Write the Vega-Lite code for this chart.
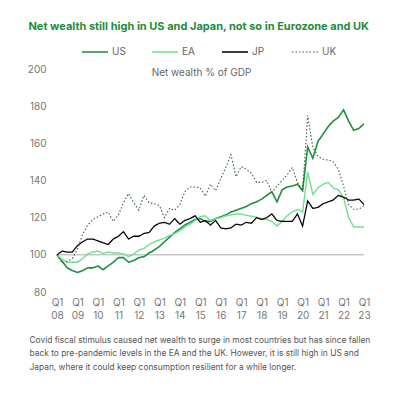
{
  "$schema": "https://vega.github.io/schema/vega-lite/v6.json",
  "width": 307,
  "height": 223,
  "padding": {"left": 27, "top": 21, "right": 5, "bottom": 5},
  "config": {
    "view": {"stroke": null},
    "font": "Inter",
    "axis": {"labelFont": "Inter", "titleFont": "Inter"},
    "axisY": {"labelOverlap": false},
    "legend": {"labelFont": "Inter"}
  },
  "title": {
    "text": "Net wealth still high in US and Japan, not so in Eurozone and UK",
    "fontSize": 11,
    "fontWeight": "bold",
    "color": "#1e8c3c",
    "anchor": "middle",
    "frame": "bounds",
    "offset": 6
  },
  "encoding": {
    "y": {
      "field": "value",
      "type": "quantitative",
      "scale": {"domain": [80, 200], "nice": false, "zero": false},
      "axis": {
        "values": [80, 100, 120, 140, 160, 180, 200],
        "labelFontSize": 10,
        "labelColor": "#777777",
        "labelPadding": 11,
        "labelOverlap": false,
        "ticks": false,
        "domain": false,
        "grid": false,
        "title": "Net wealth % of GDP",
        "titleAngle": 0,
        "titleX": 144,
        "titleY": 3,
        "titleAlign": "center",
        "titleBaseline": "middle",
        "titleFontSize": 10,
        "titleFontWeight": "normal",
        "titleColor": "#666666"
      }
    }
  },
  "layer": [
    {
      "data": {"values": [{"value": 100}]},
      "mark": {"type": "rule", "color": "#aaaaaa", "strokeWidth": 1},
      "encoding": {}
    },
    {
      "data": {
        "values": [
          {"date": "2008-01-01", "series": "US", "value": 100},
          {"date": "2008-04-01", "series": "US", "value": 96.5},
          {"date": "2008-07-01", "series": "US", "value": 93},
          {"date": "2008-10-01", "series": "US", "value": 91.5},
          {"date": "2009-01-01", "series": "US", "value": 90.5},
          {"date": "2009-04-01", "series": "US", "value": 91.5},
          {"date": "2009-07-01", "series": "US", "value": 93},
          {"date": "2009-10-01", "series": "US", "value": 93},
          {"date": "2010-01-01", "series": "US", "value": 94},
          {"date": "2010-04-01", "series": "US", "value": 92},
          {"date": "2010-07-01", "series": "US", "value": 94},
          {"date": "2010-10-01", "series": "US", "value": 96},
          {"date": "2011-01-01", "series": "US", "value": 98.5},
          {"date": "2011-04-01", "series": "US", "value": 98.5},
          {"date": "2011-07-01", "series": "US", "value": 96},
          {"date": "2011-10-01", "series": "US", "value": 97},
          {"date": "2012-01-01", "series": "US", "value": 98.5},
          {"date": "2012-04-01", "series": "US", "value": 99},
          {"date": "2012-07-01", "series": "US", "value": 101},
          {"date": "2012-10-01", "series": "US", "value": 102.5},
          {"date": "2013-01-01", "series": "US", "value": 104.5},
          {"date": "2013-04-01", "series": "US", "value": 107},
          {"date": "2013-07-01", "series": "US", "value": 109.5},
          {"date": "2013-10-01", "series": "US", "value": 112},
          {"date": "2014-01-01", "series": "US", "value": 114},
          {"date": "2014-04-01", "series": "US", "value": 116},
          {"date": "2014-07-01", "series": "US", "value": 117.5},
          {"date": "2014-10-01", "series": "US", "value": 119},
          {"date": "2015-01-01", "series": "US", "value": 119.5},
          {"date": "2015-04-01", "series": "US", "value": 118},
          {"date": "2015-07-01", "series": "US", "value": 118},
          {"date": "2015-10-01", "series": "US", "value": 119.5},
          {"date": "2016-01-01", "series": "US", "value": 120.5},
          {"date": "2016-04-01", "series": "US", "value": 121.5},
          {"date": "2016-07-01", "series": "US", "value": 123},
          {"date": "2016-10-01", "series": "US", "value": 124},
          {"date": "2017-01-01", "series": "US", "value": 125},
          {"date": "2017-04-01", "series": "US", "value": 126},
          {"date": "2017-07-01", "series": "US", "value": 127.5},
          {"date": "2017-10-01", "series": "US", "value": 128.5},
          {"date": "2018-01-01", "series": "US", "value": 130},
          {"date": "2018-04-01", "series": "US", "value": 132},
          {"date": "2018-07-01", "series": "US", "value": 134},
          {"date": "2018-10-01", "series": "US", "value": 128.5},
          {"date": "2019-01-01", "series": "US", "value": 135},
          {"date": "2019-04-01", "series": "US", "value": 136.5},
          {"date": "2019-07-01", "series": "US", "value": 137},
          {"date": "2019-10-01", "series": "US", "value": 138},
          {"date": "2020-01-01", "series": "US", "value": 134.5},
          {"date": "2020-04-01", "series": "US", "value": 158},
          {"date": "2020-07-01", "series": "US", "value": 152},
          {"date": "2020-10-01", "series": "US", "value": 161},
          {"date": "2021-01-01", "series": "US", "value": 165},
          {"date": "2021-04-01", "series": "US", "value": 169},
          {"date": "2021-07-01", "series": "US", "value": 172},
          {"date": "2021-10-01", "series": "US", "value": 174},
          {"date": "2022-01-01", "series": "US", "value": 178},
          {"date": "2022-04-01", "series": "US", "value": 172},
          {"date": "2022-07-01", "series": "US", "value": 167},
          {"date": "2022-10-01", "series": "US", "value": 168},
          {"date": "2023-01-01", "series": "US", "value": 170.5},

          {"date": "2008-01-01", "series": "EA", "value": 100},
          {"date": "2008-04-01", "series": "EA", "value": 97.5},
          {"date": "2008-07-01", "series": "EA", "value": 96},
          {"date": "2008-10-01", "series": "EA", "value": 96},
          {"date": "2009-01-01", "series": "EA", "value": 96},
          {"date": "2009-04-01", "series": "EA", "value": 98},
          {"date": "2009-07-01", "series": "EA", "value": 100.5},
          {"date": "2009-10-01", "series": "EA", "value": 101.5},
          {"date": "2010-01-01", "series": "EA", "value": 102},
          {"date": "2010-04-01", "series": "EA", "value": 100.7},
          {"date": "2010-07-01", "series": "EA", "value": 101.5},
          {"date": "2010-10-01", "series": "EA", "value": 101},
          {"date": "2011-01-01", "series": "EA", "value": 101},
          {"date": "2011-04-01", "series": "EA", "value": 100.5},
          {"date": "2011-07-01", "series": "EA", "value": 99},
          {"date": "2011-10-01", "series": "EA", "value": 100.5},
          {"date": "2012-01-01", "series": "EA", "value": 102.5},
          {"date": "2012-04-01", "series": "EA", "value": 103.5},
          {"date": "2012-07-01", "series": "EA", "value": 105.5},
          {"date": "2012-10-01", "series": "EA", "value": 107},
          {"date": "2013-01-01", "series": "EA", "value": 108},
          {"date": "2013-04-01", "series": "EA", "value": 109},
          {"date": "2013-07-01", "series": "EA", "value": 110.4},
          {"date": "2013-10-01", "series": "EA", "value": 111.5},
          {"date": "2014-01-01", "series": "EA", "value": 113},
          {"date": "2014-04-01", "series": "EA", "value": 115},
          {"date": "2014-07-01", "series": "EA", "value": 116.5},
          {"date": "2014-10-01", "series": "EA", "value": 118.5},
          {"date": "2015-01-01", "series": "EA", "value": 120.5},
          {"date": "2015-04-01", "series": "EA", "value": 121},
          {"date": "2015-07-01", "series": "EA", "value": 118.5},
          {"date": "2015-10-01", "series": "EA", "value": 119.5},
          {"date": "2016-01-01", "series": "EA", "value": 120},
          {"date": "2016-04-01", "series": "EA", "value": 121},
          {"date": "2016-07-01", "series": "EA", "value": 121.5},
          {"date": "2016-10-01", "series": "EA", "value": 122},
          {"date": "2017-01-01", "series": "EA", "value": 122},
          {"date": "2017-04-01", "series": "EA", "value": 121.3},
          {"date": "2017-07-01", "series": "EA", "value": 120.8},
          {"date": "2017-10-01", "series": "EA", "value": 120.2},
          {"date": "2018-01-01", "series": "EA", "value": 119.5},
          {"date": "2018-04-01", "series": "EA", "value": 119},
          {"date": "2018-07-01", "series": "EA", "value": 118},
          {"date": "2018-10-01", "series": "EA", "value": 115.5},
          {"date": "2019-01-01", "series": "EA", "value": 118},
          {"date": "2019-04-01", "series": "EA", "value": 121},
          {"date": "2019-07-01", "series": "EA", "value": 123},
          {"date": "2019-10-01", "series": "EA", "value": 124.5},
          {"date": "2020-01-01", "series": "EA", "value": 123},
          {"date": "2020-04-01", "series": "EA", "value": 144.5},
          {"date": "2020-07-01", "series": "EA", "value": 132.5},
          {"date": "2020-10-01", "series": "EA", "value": 136},
          {"date": "2021-01-01", "series": "EA", "value": 138},
          {"date": "2021-04-01", "series": "EA", "value": 139},
          {"date": "2021-07-01", "series": "EA", "value": 136},
          {"date": "2021-10-01", "series": "EA", "value": 135},
          {"date": "2022-01-01", "series": "EA", "value": 131},
          {"date": "2022-04-01", "series": "EA", "value": 120},
          {"date": "2022-07-01", "series": "EA", "value": 115},
          {"date": "2022-10-01", "series": "EA", "value": 115},
          {"date": "2023-01-01", "series": "EA", "value": 115},

          {"date": "2008-01-01", "series": "JP", "value": 100},
          {"date": "2008-04-01", "series": "JP", "value": 102},
          {"date": "2008-07-01", "series": "JP", "value": 101.5},
          {"date": "2008-10-01", "series": "JP", "value": 101.5},
          {"date": "2009-01-01", "series": "JP", "value": 105},
          {"date": "2009-04-01", "series": "JP", "value": 107},
          {"date": "2009-07-01", "series": "JP", "value": 108.5},
          {"date": "2009-10-01", "series": "JP", "value": 108.5},
          {"date": "2010-01-01", "series": "JP", "value": 107.5},
          {"date": "2010-04-01", "series": "JP", "value": 106.5},
          {"date": "2010-07-01", "series": "JP", "value": 105.5},
          {"date": "2010-10-01", "series": "JP", "value": 108.5},
          {"date": "2011-01-01", "series": "JP", "value": 110},
          {"date": "2011-04-01", "series": "JP", "value": 112.5},
          {"date": "2011-07-01", "series": "JP", "value": 108.5},
          {"date": "2011-10-01", "series": "JP", "value": 110},
          {"date": "2012-01-01", "series": "JP", "value": 110},
          {"date": "2012-04-01", "series": "JP", "value": 111.5},
          {"date": "2012-07-01", "series": "JP", "value": 112},
          {"date": "2012-10-01", "series": "JP", "value": 115.5},
          {"date": "2013-01-01", "series": "JP", "value": 117},
          {"date": "2013-04-01", "series": "JP", "value": 117.5},
          {"date": "2013-07-01", "series": "JP", "value": 116.5},
          {"date": "2013-10-01", "series": "JP", "value": 119.5},
          {"date": "2014-01-01", "series": "JP", "value": 116.5},
          {"date": "2014-04-01", "series": "JP", "value": 118.5},
          {"date": "2014-07-01", "series": "JP", "value": 119.5},
          {"date": "2014-10-01", "series": "JP", "value": 121},
          {"date": "2015-01-01", "series": "JP", "value": 117.5},
          {"date": "2015-04-01", "series": "JP", "value": 118.5},
          {"date": "2015-07-01", "series": "JP", "value": 116},
          {"date": "2015-10-01", "series": "JP", "value": 118.5},
          {"date": "2016-01-01", "series": "JP", "value": 114.5},
          {"date": "2016-04-01", "series": "JP", "value": 114},
          {"date": "2016-07-01", "series": "JP", "value": 114.5},
          {"date": "2016-10-01", "series": "JP", "value": 116.5},
          {"date": "2017-01-01", "series": "JP", "value": 116},
          {"date": "2017-04-01", "series": "JP", "value": 117.5},
          {"date": "2017-07-01", "series": "JP", "value": 117},
          {"date": "2017-10-01", "series": "JP", "value": 120},
          {"date": "2018-01-01", "series": "JP", "value": 119},
          {"date": "2018-04-01", "series": "JP", "value": 120},
          {"date": "2018-07-01", "series": "JP", "value": 122},
          {"date": "2018-10-01", "series": "JP", "value": 118.5},
          {"date": "2019-01-01", "series": "JP", "value": 118},
          {"date": "2019-04-01", "series": "JP", "value": 118},
          {"date": "2019-07-01", "series": "JP", "value": 118},
          {"date": "2019-10-01", "series": "JP", "value": 122},
          {"date": "2020-01-01", "series": "JP", "value": 115.5},
          {"date": "2020-04-01", "series": "JP", "value": 129},
          {"date": "2020-07-01", "series": "JP", "value": 125},
          {"date": "2020-10-01", "series": "JP", "value": 125.5},
          {"date": "2021-01-01", "series": "JP", "value": 127.5},
          {"date": "2021-04-01", "series": "JP", "value": 128.5},
          {"date": "2021-07-01", "series": "JP", "value": 129.5},
          {"date": "2021-10-01", "series": "JP", "value": 132},
          {"date": "2022-01-01", "series": "JP", "value": 131},
          {"date": "2022-04-01", "series": "JP", "value": 129.5},
          {"date": "2022-07-01", "series": "JP", "value": 129.5},
          {"date": "2022-10-01", "series": "JP", "value": 130},
          {"date": "2023-01-01", "series": "JP", "value": 127},

          {"date": "2008-01-01", "series": "UK", "value": 100},
          {"date": "2008-04-01", "series": "UK", "value": 95.5},
          {"date": "2008-07-01", "series": "UK", "value": 96.5},
          {"date": "2008-10-01", "series": "UK", "value": 98},
          {"date": "2009-01-01", "series": "UK", "value": 103},
          {"date": "2009-04-01", "series": "UK", "value": 111},
          {"date": "2009-07-01", "series": "UK", "value": 116},
          {"date": "2009-10-01", "series": "UK", "value": 119},
          {"date": "2010-01-01", "series": "UK", "value": 120.5},
          {"date": "2010-04-01", "series": "UK", "value": 122},
          {"date": "2010-07-01", "series": "UK", "value": 123},
          {"date": "2010-10-01", "series": "UK", "value": 118},
          {"date": "2011-01-01", "series": "UK", "value": 121.5},
          {"date": "2011-04-01", "series": "UK", "value": 128},
          {"date": "2011-07-01", "series": "UK", "value": 133},
          {"date": "2011-10-01", "series": "UK", "value": 128},
          {"date": "2012-01-01", "series": "UK", "value": 124},
          {"date": "2012-04-01", "series": "UK", "value": 132},
          {"date": "2012-07-01", "series": "UK", "value": 128},
          {"date": "2012-10-01", "series": "UK", "value": 127.5},
          {"date": "2013-01-01", "series": "UK", "value": 126.5},
          {"date": "2013-04-01", "series": "UK", "value": 120},
          {"date": "2013-07-01", "series": "UK", "value": 125},
          {"date": "2013-10-01", "series": "UK", "value": 124},
          {"date": "2014-01-01", "series": "UK", "value": 127},
          {"date": "2014-04-01", "series": "UK", "value": 134},
          {"date": "2014-07-01", "series": "UK", "value": 136.5},
          {"date": "2014-10-01", "series": "UK", "value": 136.5},
          {"date": "2015-01-01", "series": "UK", "value": 136},
          {"date": "2015-04-01", "series": "UK", "value": 131.5},
          {"date": "2015-07-01", "series": "UK", "value": 138},
          {"date": "2015-10-01", "series": "UK", "value": 134.5},
          {"date": "2016-01-01", "series": "UK", "value": 141},
          {"date": "2016-04-01", "series": "UK", "value": 147},
          {"date": "2016-07-01", "series": "UK", "value": 154},
          {"date": "2016-10-01", "series": "UK", "value": 142},
          {"date": "2017-01-01", "series": "UK", "value": 147.5},
          {"date": "2017-04-01", "series": "UK", "value": 146},
          {"date": "2017-07-01", "series": "UK", "value": 144},
          {"date": "2017-10-01", "series": "UK", "value": 139},
          {"date": "2018-01-01", "series": "UK", "value": 139},
          {"date": "2018-04-01", "series": "UK", "value": 140},
          {"date": "2018-07-01", "series": "UK", "value": 133.5},
          {"date": "2018-10-01", "series": "UK", "value": 137},
          {"date": "2019-01-01", "series": "UK", "value": 140},
          {"date": "2019-04-01", "series": "UK", "value": 143},
          {"date": "2019-07-01", "series": "UK", "value": 147},
          {"date": "2019-10-01", "series": "UK", "value": 139},
          {"date": "2020-01-01", "series": "UK", "value": 134.5},
          {"date": "2020-04-01", "series": "UK", "value": 175},
          {"date": "2020-07-01", "series": "UK", "value": 158},
          {"date": "2020-10-01", "series": "UK", "value": 153},
          {"date": "2021-01-01", "series": "UK", "value": 151.5},
          {"date": "2021-04-01", "series": "UK", "value": 151},
          {"date": "2021-07-01", "series": "UK", "value": 150},
          {"date": "2021-10-01", "series": "UK", "value": 146},
          {"date": "2022-01-01", "series": "UK", "value": 137},
          {"date": "2022-04-01", "series": "UK", "value": 127},
          {"date": "2022-07-01", "series": "UK", "value": 124.5},
          {"date": "2022-10-01", "series": "UK", "value": 124.5},
          {"date": "2023-01-01", "series": "UK", "value": 126.5}
        ]
      },
      "mark": {"type": "line"},
      "encoding": {
        "x": {
          "field": "date",
          "type": "temporal",
          "scale": {"type": "utc", "domain": ["2008-01-01", "2023-01-01"]},
          "axis": {
            "values": ["2008-01-01","2009-01-01","2010-01-01","2011-01-01","2012-01-01","2013-01-01","2014-01-01","2015-01-01","2016-01-01","2017-01-01","2018-01-01","2019-01-01","2020-01-01","2021-01-01","2022-01-01","2023-01-01"],
            "labelExpr": "['Q1', utcFormat(datum.value, '%y')]",
            "labelFlush": false,
            "labelOverlap": false,
            "labelFontSize": 10,
            "labelColor": "#777777",
            "labelLineHeight": 13.5,
            "labelPadding": 5,
            "ticks": false,
            "domain": false,
            "grid": false,
            "title": [
              "Covid fiscal stimulus caused net wealth to surge in most countries but has since fallen",
              "back to pre-pandemic levels in the EA and the UK. However, it is still high in US and",
              "Japan, where it could keep consumption resilient for a while longer."
            ],
            "titleFontSize": 8.4,
            "titleFontWeight": "normal",
            "titleColor": "#555555",
            "titleAlign": "left",
            "titleAnchor": "start",
            "titleBaseline": "top",
            "titleX": -28,
            "titleY": 43,
            "titleLineHeight": 13.5
          }
        },
        "color": {
          "field": "series",
          "type": "nominal",
          "scale": {"domain": ["US", "EA", "JP", "UK"], "range": ["#1f8f3f", "#72df90", "#000000", "#3f5f4f"]},
          "legend": {
            "orient": "none",
            "legendX": 24,
            "legendY": -31,
            "direction": "horizontal",
            "title": null,
            "columns": 4,
            "gridAlign": "all",
            "columnPadding": 22,
            "symbolType": "stroke",
            "symbolSize": 676,
            "symbolStrokeWidth": 2,
            "labelFontSize": 10,
            "labelColor": "#666666",
            "labelOffset": 3
          }
        },
        "strokeDash": {
          "field": "series",
          "type": "nominal",
          "scale": {"domain": ["US", "EA", "JP", "UK"], "range": [[1, 0], [1, 0], [1, 0], [1.5, 2]]}
        },
        "strokeWidth": {
          "field": "series",
          "type": "nominal",
          "scale": {"domain": ["US", "EA", "JP", "UK"], "range": [1.6, 1.1, 1.6, 1.6]},
          "legend": null
        },
        "order": {"field": "date", "type": "temporal"}
      }
    }
  ]
}
